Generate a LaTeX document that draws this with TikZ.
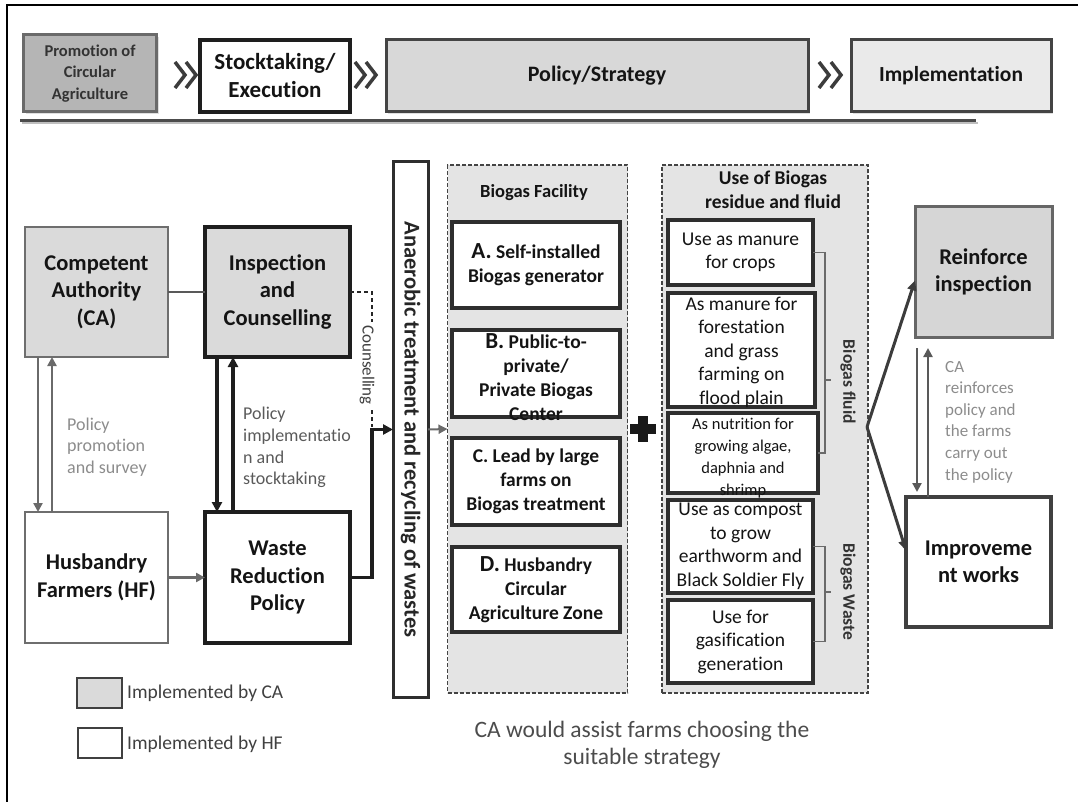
\documentclass[tikz,border=0pt]{standalone}
\usepackage{fontspec}
\setmainfont{Carlito}[RawFeature={-liga;-calt;-clig}]
\usetikzlibrary{arrows.meta,calc,shadows}
\definecolor{promfill}{HTML}{B5B5B5}
\definecolor{promedge}{HTML}{6A6A6A}
\definecolor{polfill}{HTML}{D8D8D8}
\definecolor{implfill}{HTML}{EAEAEA}
\definecolor{cafill}{HTML}{DADADA}
\definecolor{edgegray}{HTML}{6E6E6E}
\definecolor{edgedark}{HTML}{1E1E1E}
\definecolor{panelfill}{HTML}{E4E4E4}
\definecolor{paneledge}{HTML}{444444}
\definecolor{itemedge}{HTML}{2E2E2E}
\definecolor{notegray}{HTML}{8C8C8C}
\definecolor{notemid}{HTML}{5A5A5A}
\definecolor{arrowgray}{HTML}{6A6A6A}
\definecolor{fangray}{HTML}{3C3C3C}
\definecolor{reinffill}{HTML}{D6D6D6}
\definecolor{textdark}{HTML}{141414}
\begin{document}
\begin{tikzpicture}[x=1pt,y=-1pt,
  boxbase/.style={draw, outer sep=0pt, inner sep=0pt, align=center, text=textdark},
  topbox/.style={boxbase, line width=3pt, drop shadow={opacity=0.25, shadow xshift=2pt, shadow yshift=-2pt}},
  caBox/.style={boxbase, fill=cafill, draw=edgegray, line width=2.5pt},
  hfBox/.style={boxbase, fill=white, draw=edgegray, line width=2.5pt},
  thickBox/.style={boxbase, draw=edgedark, line width=4pt},
  itemBox/.style={boxbase, fill=white, draw=itemedge, line width=3.5pt},
  panel/.style={boxbase, fill=panelfill, draw=paneledge, line width=1.5pt, dash pattern=on 4pt off 2pt},
  bigbold/.style={font=\fontsize{22.5}{27.5}\selectfont\bfseries},
  itembold/.style={font=\fontsize{19.5}{24}\selectfont\bfseries},
  itemreg/.style={font=\fontsize{19.5}{23.5}\selectfont},
  txt/.style={inner sep=0pt, align=center, text=textdark},
  note/.style={inner sep=0pt, align=left, text=notegray, font=\fontsize{18}{21.6}\selectfont},
  chev/.style={draw=fangray, line width=3.5pt, line join=miter},
  grayarrow/.style={draw=arrowgray, line width=2.5pt, -{Triangle[length=9pt,width=9pt]}},
  blackarrow/.style={draw=edgedark, line width=3.5pt, -{Triangle[length=10pt,width=10pt]}},
  fanarrow/.style={draw=fangray, line width=3pt, -{Triangle[length=10pt,width=9pt]}},
  bracket/.style={draw=arrowgray, line width=1.8pt}
]
\useasboundingbox (0,0) rectangle (1078,802);
% outer frame
\draw[line width=1.5pt, black] (7,802) -- (7,5) -- (1078,5);

% ---------- top row ----------
\node[topbox, fill=promfill, draw=promedge, minimum width=133pt, minimum height=77pt,
      font=\fontsize{16.5}{21.5}\selectfont\bfseries, text=black!80] (prom) at (90,73.5)
      {Promotion of\\Circular\\Agriculture};
\node[topbox, fill=white, draw=edgedark, line width=3.5pt, minimum width=150pt, minimum height=72pt,
      font=\fontsize{23}{28}\selectfont\bfseries] (stock) at (275,76) {Stocktaking/\\Execution};
\node[topbox, fill=polfill, draw=paneledge, minimum width=422pt, minimum height=72pt,
      font=\fontsize{22}{26}\selectfont\bfseries] (pol) at (597,76) {Policy/Strategy};
\node[topbox, fill=implfill, draw=paneledge, minimum width=200pt, minimum height=72pt,
      font=\fontsize{21.5}{26}\selectfont\bfseries] (impl) at (951,76) {Implementation};
\draw[chev] (175,62) -- (185,75) -- (175,88);
\draw[chev] (186,62) -- (196,75) -- (186,88);
\draw[chev] (355,62) -- (365,75) -- (355,88);
\draw[chev] (366,62) -- (376,75) -- (366,88);
\draw[chev] (819,62) -- (829,75) -- (819,88);
\draw[chev] (831,62) -- (841,75) -- (831,88);
\draw[line width=2.5pt, gray!50] (22,123) -- (978,123);
\draw[line width=3pt, black!70] (20,121) -- (976,121);

% ---------- left part ----------
\node[caBox, bigbold, minimum width=143pt, minimum height=130pt] (ca) at (96.5,292)
      {Competent\\Authority\\(CA)};
\node[thickBox, fill=cafill, bigbold, minimum width=145pt, minimum height=130pt] (insp) at (277.5,292)
      {Inspection\\and\\Counselling};
\node[hfBox, bigbold, minimum width=143pt, minimum height=131pt] (hf) at (96.5,577.5)
      {Husbandry\\Farmers (HF)};
\node[thickBox, fill=white, bigbold, minimum width=145pt, minimum height=131pt] (waste) at (277.5,577.5)
      {Waste\\Reduction\\Policy};

\draw[draw=black!65, line width=2.2pt] (ca) -- (insp);
\draw[grayarrow] ($(ca.south west)+(13,0)$) -- ($(hf.north west)+(13,0)$);
\draw[grayarrow] ($(hf.north west)+(27,0)$) -- ($(ca.south west)+(27,0)$);
\draw[blackarrow] ($(insp.south west)+(12,0)$) -- ($(waste.north west)+(12,0)$);
\draw[blackarrow] ($(waste.north west)+(28,0)$) -- ($(insp.south west)+(28,0)$);
\draw[grayarrow] (hf) -- (waste);

\node[note, anchor=west] (ppnote) at (67,447) {Policy\\promotion\\and survey};
\node[note, anchor=west, text=notemid] (pinote) at (243,447.5) {Policy\\implementatio\\n and\\stocktaking};

% anaerobic column
\node[boxbase, fill=white, draw=itemedge, line width=3pt, minimum width=35pt, minimum height=535pt] (anaer) at (410.5,429.5) {};
\node[txt, rotate=-90, font=\fontsize{22.5}{26}\selectfont\bfseries, text=black!85] (anaertxt) at (anaer.center)
      {Anaerobic treatment and recycling of wastes};

% counselling dashed connector
\coordinate (cbend) at (372,292);
\draw[draw=black!85, line width=1.8pt, dash pattern=on 4pt off 3pt] (insp.east) -- (cbend) -- (372,427);
\node[txt, rotate=-90, fill=white, inner sep=3pt, font=\fontsize{17}{20}\selectfont, text=black!75] (counstxt) at (367,365) {Counselling};
\draw[blackarrow] (waste.east) -| ($(anaer.west)+(-21,0)$) -- (anaer.west);

% legend
\node[boxbase, fill=cafill, draw=black!75, line width=2pt, minimum width=45pt, minimum height=30pt] (lca) at (99.5,693) {};
\node[txt, anchor=west, font=\fontsize{19.5}{22}\selectfont, text=black!75] (lcatxt) at (127,693) {Implemented by CA};
\node[boxbase, fill=white, draw=black!75, line width=2pt, minimum width=44pt, minimum height=30pt] (lhf) at (100,743) {};
\node[txt, anchor=west, font=\fontsize{19.5}{22}\selectfont, text=black!75] (lhftxt) at (127,744) {Implemented by HF};

% ---------- biogas facility ----------
\node[panel, minimum width=180pt, minimum height=528pt] (bf) at (537.5,429) {};
\draw[grayarrow, line width=2pt] (anaer.east) -- (bf.west);
\node[txt, font=\fontsize{18.5}{22}\selectfont\bfseries] (bftitle) at (534,193) {Biogas Facility};
\node[itemBox, itembold, minimum width=168pt, minimum height=86pt] (bA) at (536,265)
      {{\fontsize{23}{24}\selectfont A.} Self-installed\\Biogas generator};
\node[itemBox, minimum width=168pt, minimum height=87pt] (bB) at (536,373.5) {};
\node[txt, itembold] (bBtxt) at (536,377) {{\fontsize{23}{24}\selectfont B.} Public-to-\\private/\\Private Biogas\\Center};
\node[itemBox, itembold, minimum width=168pt, minimum height=87pt] (bC) at (536,481.5)
      {C. Lead by large\\farms on\\Biogas treatment};
\node[itemBox, itembold, minimum width=168pt, minimum height=85pt] (bD) at (536,589.5)
      {{\fontsize{23}{24}\selectfont D.} Husbandry\\Circular\\Agriculture Zone};

% plus sign
\draw[line width=10pt, black!90] (630,429) -- (656,429);
\draw[line width=10pt, black!90] (643,416) -- (643,442);

% ---------- use of biogas ----------
\node[panel, minimum width=206pt, minimum height=528pt] (use) at (765,429) {};
\node[txt, font=\fontsize{19.5}{24}\selectfont\bfseries] (usetitle) at (773,190) {Use of Biogas\\residue and fluid};
\node[itemBox, itemreg, minimum width=145pt, minimum height=65pt] (u1) at (740.5,252.5)
      {Use as manure\\for crops};
\node[itemBox, minimum width=147pt, minimum height=114pt] (u2) at (741.5,350) {};
\node[txt, itemreg] (u2txt) at (741.5,352) {As manure for\\forestation\\and grass\\farming on\\flood plain};
\node[itemBox, minimum width=150pt, minimum height=80pt] (u3) at (743,453) {};
\node[txt, font=\fontsize{16.5}{22}\selectfont] (u3txt) at (743,458) {As nutrition for\\growing algae,\\daphnia and\\shrimp};
\node[itemBox, itemreg, minimum width=145pt, minimum height=93pt] (u4) at (740.5,546.5)
      {Use as compost\\to grow\\earthworm and\\Black Soldier Fly};
\node[itemBox, itemreg, minimum width=145pt, minimum height=83pt] (u5) at (740.5,641.5)
      {Use for\\gasification\\generation};

\draw[bracket] (u1.east) -- ++(12,0) |- (u3.east);
\coordinate (fluidtick) at (825,380);
\draw[bracket] (fluidtick) -- ++(6,0);
\draw[bracket] (u4.east) -- ++(12,0) |- (u5.east);
\coordinate (wastetick) at (825,592);
\draw[bracket] (wastetick) -- ++(6,0);
\node[txt, rotate=-90, font=\fontsize{17.5}{20}\selectfont\bfseries, text=black!80] (fluidtxt) at (848,382) {Biogas fluid};
\node[txt, rotate=-90, font=\fontsize{17.5}{20}\selectfont\bfseries, text=black!80] (wastetxt) at (848,592) {Biogas Waste};

% ---------- right part ----------
\node[boxbase, fill=reinffill, draw=black!60, line width=3pt, bigbold, minimum width=137pt, minimum height=130pt] (reinf) at (983.5,272)
      {Reinforce\\inspection};
\node[boxbase, fill=white, draw=black!75, line width=3.5pt, bigbold, minimum width=145pt, minimum height=130pt] (impr) at (978.5,562)
      {Improveme\\nt works};
\coordinate (fan) at (867,427);
\draw[fanarrow] (fan) -- (reinf.187);
\draw[fanarrow] (fan) -- (impr.171);
\coordinate (rdTop) at (917,348);
\coordinate (rdBot) at (917,492);
\coordinate (ruTop) at (928,348);
\draw[grayarrow, draw=black!65] (rdTop) -- (rdBot);
\draw[grayarrow, draw=black!65] ($(impr.north west)+(22,0)$) -- (ruTop);
\node[note, anchor=west, font=\fontsize{17}{21.6}\selectfont] (canote) at (945,422)
      {CA\\reinforces\\policy and\\the farms\\carry out\\the policy};

% bottom note
\node[txt, font=\fontsize{23.5}{27}\selectfont, text=black!70] (assist) at (642,745)
      {CA would assist farms choosing the\\suitable strategy};
\end{tikzpicture}
\end{document}
